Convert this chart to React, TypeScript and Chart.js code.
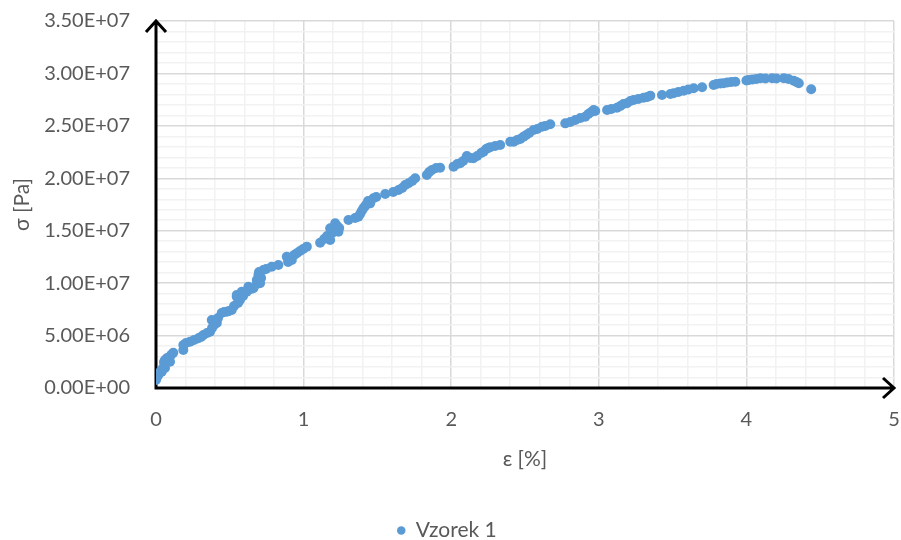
import { useEffect, useRef } from "react";
import { Chart, registerables } from "chart.js";

Chart.register(...registerables);

const seriesName = "Vzorek 1";
const xTitle = "ε [%]";
const yTitle = "σ [Pa]";
const xTickLabels = ["0", "1", "2", "3", "4", "5"];
const yTickLabels = [
  "0.00E+00", "5.00E+06", "1.00E+07", "1.50E+07",
  "2.00E+07", "2.50E+07", "3.00E+07", "3.50E+07",
];

const strainPct = [
  0.000, 0.007, 0.016, 0.027, 0.039, 0.047, 0.061, 0.054, 0.061, 0.075,
  0.095, 0.117, 0.102, 0.185, 0.185, 0.203, 0.231, 0.258, 0.287, 0.305,
  0.321, 0.346, 0.366, 0.380, 0.378, 0.393, 0.412, 0.420, 0.445, 0.461,
  0.479, 0.495, 0.513, 0.529, 0.547, 0.547, 0.556, 0.569, 0.581, 0.590,
  0.615, 0.626, 0.644, 0.660, 0.683, 0.692, 0.683, 0.694, 0.705, 0.698,
  0.712, 0.727, 0.746, 0.784, 0.829, 0.886, 0.895, 0.908, 0.920, 0.936,
  0.954, 0.976, 0.997, 1.022, 1.112, 1.139, 1.159, 1.180, 1.180, 1.193,
  1.214, 1.227, 1.236, 1.241, 1.304, 1.349, 1.371, 1.383, 1.394, 1.405,
  1.417, 1.428, 1.437, 1.451, 1.473, 1.492, 1.553, 1.607, 1.643, 1.668,
  1.688, 1.711, 1.736, 1.756, 1.835, 1.851, 1.869, 1.898, 1.925, 2.016,
  2.041, 2.061, 2.081, 2.106, 2.129, 2.151, 2.176, 2.203, 2.219, 2.237,
  2.251, 2.264, 2.298, 2.332, 2.400, 2.423, 2.447, 2.468, 2.490, 2.508,
  2.529, 2.558, 2.583, 2.615, 2.637, 2.671, 2.773, 2.807, 2.841, 2.875,
  2.908, 2.929, 2.949, 2.965, 2.976, 3.056, 3.085, 3.123, 3.146, 3.166,
  3.191, 3.214, 3.236, 3.268, 3.304, 3.329, 3.349, 3.428, 3.485, 3.507,
  3.539, 3.575, 3.607, 3.643, 3.700, 3.778, 3.797, 3.824, 3.846, 3.871,
  3.898, 3.925, 4.000, 4.016, 4.041, 4.068, 4.095, 4.129, 4.174, 4.203,
  4.253, 4.285, 4.321, 4.339, 4.355, 4.439,
];

const stressPa = [
  0.76e6, 1.05e6, 1.24e6, 1.53e6, 1.55e6, 1.91e6, 1.91e6, 2.48e6, 2.67e6, 2.86e6,
  2.51e6, 3.37e6, 3.15e6, 3.62e6, 4.10e6, 4.29e6, 4.42e6, 4.58e6, 4.74e6, 4.86e6,
  5.05e6, 5.25e6, 5.37e6, 5.72e6, 6.49e6, 6.01e6, 6.20e6, 6.68e6, 7.15e6, 7.25e6,
  7.28e6, 7.34e6, 7.44e6, 7.82e6, 8.71e6, 8.87e6, 8.11e6, 8.39e6, 9.18e6, 8.77e6,
  9.18e6, 9.66e6, 9.44e6, 9.51e6, 9.92e6, 10.11e6, 10.30e6, 10.78e6, 9.99e6, 11.06e6,
  10.49e6, 11.25e6, 11.35e6, 11.57e6, 11.73e6, 12.52e6, 12.02e6, 12.40e6, 12.21e6, 12.68e6,
  12.85e6, 13.07e6, 13.26e6, 13.48e6, 13.86e6, 14.21e6, 14.50e6, 15.23e6, 14.11e6, 14.78e6,
  15.71e6, 15.45e6, 14.91e6, 15.26e6, 16.02e6, 16.21e6, 16.34e6, 16.59e6, 16.88e6, 17.14e6,
  17.36e6, 17.55e6, 17.83e6, 17.61e6, 18.09e6, 18.22e6, 18.50e6, 18.69e6, 18.88e6, 19.07e6,
  19.36e6, 19.52e6, 19.74e6, 20.00e6, 20.31e6, 20.60e6, 20.79e6, 20.98e6, 21.01e6, 21.11e6,
  21.36e6, 21.43e6, 21.65e6, 22.13e6, 21.94e6, 21.91e6, 22.13e6, 22.41e6, 22.54e6, 22.79e6,
  22.89e6, 22.96e6, 23.08e6, 23.17e6, 23.49e6, 23.49e6, 23.65e6, 23.75e6, 23.97e6, 24.13e6,
  24.32e6, 24.61e6, 24.70e6, 24.92e6, 24.99e6, 25.15e6, 25.24e6, 25.37e6, 25.56e6, 25.75e6,
  25.87e6, 26.13e6, 26.32e6, 26.51e6, 26.42e6, 26.51e6, 26.61e6, 26.73e6, 26.89e6, 27.08e6,
  27.15e6, 27.37e6, 27.47e6, 27.56e6, 27.69e6, 27.75e6, 27.88e6, 27.94e6, 28.04e6, 28.11e6,
  28.23e6, 28.35e6, 28.47e6, 28.58e6, 28.68e6, 28.90e6, 28.99e6, 29.04e6, 29.06e6, 29.14e6,
  29.18e6, 29.21e6, 29.33e6, 29.37e6, 29.42e6, 29.47e6, 29.54e6, 29.52e6, 29.54e6, 29.52e6,
  29.54e6, 29.47e6, 29.31e6, 29.18e6, 29.06e6, 28.49e6,
];

const FONT = "Lato, 'Open Sans', sans-serif";
const TEXT = "#595959";
const MAJOR = "#D9D9D9";
const MINOR = "#F2F2F2";
const DOT = "#5B9BD5";

const isMultiple = (v: number, step: number) =>
  Math.abs(v / step - Math.round(v / step)) < 1e-6;

const axisArrows = {
  id: "axisArrows",
  beforeDatasetsDraw(chart: any) {
    const { ctx, chartArea } = chart;
    const { left, right, top, bottom } = chartArea;
    ctx.save();
    ctx.strokeStyle = "#000";
    ctx.lineWidth = 3;
    ctx.lineCap = "butt";
    ctx.lineJoin = "miter";
    ctx.beginPath();
    ctx.moveTo(left, bottom + 1.5);
    ctx.lineTo(left, top);
    ctx.moveTo(left - 10, top + 11);
    ctx.lineTo(left, top);
    ctx.lineTo(left + 10, top + 11);
    ctx.moveTo(left - 1.5, bottom);
    ctx.lineTo(right, bottom);
    ctx.moveTo(right - 11, bottom - 10);
    ctx.lineTo(right, bottom);
    ctx.lineTo(right - 11, bottom + 10);
    ctx.stroke();
    ctx.restore();
  },
};

export default function App() {
  const canvasRef = useRef<HTMLCanvasElement | null>(null);

  useEffect(() => {
    const canvas = canvasRef.current;
    if (!canvas) return;
    const points = strainPct.map((x, i) => ({ x, y: stressPa[i] }));
    const chart = new Chart(canvas, {
      type: "scatter",
      data: {
        datasets: [
          {
            label: seriesName,
            data: points,
            backgroundColor: DOT,
            borderColor: DOT,
            borderWidth: 0,
            pointRadius: 5,
            pointHoverRadius: 5,
            pointStyle: "circle",
          },
        ],
      },
      options: {
        responsive: false,
        animation: false,
        devicePixelRatio: 1,
        events: [],
        layout: { padding: { top: 21, right: 7, left: 0, bottom: -11 } },
        plugins: {
          tooltip: { enabled: false },
          legend: {
            display: true,
            position: "bottom",
            labels: {
              usePointStyle: true,
              pointStyle: "circle",
              boxWidth: 8,
              boxHeight: 6,
              padding: 10,
              color: TEXT,
              font: { family: FONT, size: 21 },
            },
          },
        },
        scales: {
          x: {
            type: "linear",
            min: 0,
            max: 5,
            afterFit: (s: any) => {
              s.height = 122;
              s.paddingLeft = 0;
              s.paddingRight = 0;
            },
            border: { display: false },
            grid: {
              drawTicks: false,
              lineWidth: 1.5,
              color: (c: any) => (isMultiple(c.tick.value, 1) ? MAJOR : MINOR),
            },
            ticks: {
              stepSize: 0.2,
              autoSkip: false,
              maxRotation: 0,
              maxTicksLimit: 1000,
              padding: 20,
              color: TEXT,
              font: { family: FONT, size: 20 },
              callback: (v: any) =>
                isMultiple(Number(v), 1) ? xTickLabels[Math.round(Number(v))] : "",
            },
            title: {
              display: true,
              text: xTitle,
              color: TEXT,
              font: { family: FONT, size: 21 },
              padding: { top: 0, bottom: 38 },
            },
          },
          y: {
            type: "linear",
            min: 0,
            max: 3.5e7,
            afterFit: (s: any) => {
              s.width = 156;
              s.paddingTop = 0;
              s.paddingBottom = 0;
            },
            border: { display: false },
            grid: {
              drawTicks: false,
              lineWidth: 1.5,
              color: (c: any) => (isMultiple(c.tick.value, 5e6) ? MAJOR : MINOR),
            },
            ticks: {
              stepSize: 1e6,
              autoSkip: false,
              maxTicksLimit: 1000,
              padding: 26,
              color: TEXT,
              font: { family: FONT, size: 20 },
              callback: (v: any) =>
                isMultiple(Number(v), 5e6) ? yTickLabels[Math.round(Number(v) / 5e6)] : "",
            },
            title: {
              display: true,
              text: yTitle,
              color: TEXT,
              font: { family: FONT, size: 21 },
              padding: { top: 10, bottom: 0 },
            },
          },
        },
      },
      plugins: [axisArrows],
    });
    return () => chart.destroy();
  }, []);

  return (
    <div style={{ position: "absolute", left: 0, top: 0, width: 901, height: 540, background: "#fff" }}>
      <canvas ref={canvasRef} width={901} height={540} style={{ display: "block" }} />
    </div>
  );
}
